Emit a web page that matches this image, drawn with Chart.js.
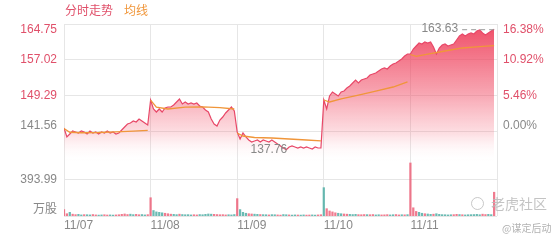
<!DOCTYPE html>
<html>
<head>
<meta charset="utf-8">
<script src="https://cdn.jsdelivr.net/npm/chart.js@4.4.0/dist/chart.umd.min.js"></script>
<style>
  body { margin: 0; background: #fff; }
  #wrap { position: relative; width: 560px; height: 240px; font-family: "Liberation Sans", "Noto Sans CJK SC", sans-serif; }
  #legend { position: absolute; left: 65px; top: 3px; font-size: 12px; line-height: 14px; font-family: "Noto Sans CJK SC", sans-serif; }
  #legend .avg { margin-left: 11px; color: #f0963a; }
  #legend .price { color: #e0506a; }
  #mark { position: absolute; left: 471px; top: 194px; font-size: 14px; line-height: 18px; color: rgba(185,185,185,0.85); font-family: "Noto Sans CJK SC", sans-serif; }
  #mark .logo { display: inline-block; width: 11px; height: 11px; border: 1.5px solid rgba(190,190,190,0.85); border-radius: 50%; margin-right: 7px; vertical-align: -1px; }
  #mark2 { position: absolute; left: 502px; top: 221px; font-size: 10px; line-height: 14px; color: rgba(170,170,170,0.9); font-family: "Noto Sans CJK SC", sans-serif; }
</style>
</head>
<body>
<div id="wrap">
  <canvas id="chart" width="560" height="240"></canvas>
  <div id="legend"><span class="price">分时走势</span><span class="avg">均线</span></div>
  <div id="mark"><span class="logo"></span>老虎社区</div>
  <div id="mark2">@谋定后动</div>
</div>
<script>
const days = ['11/07', '11/08', '11/09', '11/10', '11/11'];
const prevClose = 141.56;
const priceTicks = [164.75, 157.02, 149.29, 141.56];
const pctLabels = ['16.38%', '10.92%', '5.46%', '0.00%'];
const volTick = 393.99;
const volUnit = '万股';

// price every few minutes, one array per day
const price1 = [142.42, 140.49, 141.13, 141.77, 141.56, 141.35, 141.77, 141.56, 141.13, 141.77, 141.35, 141.56, 141.13, 141.56, 141.35, 141.77, 141.35, 141.56, 141.13, 141.35, 141.99, 142.63, 143.28, 143.49, 143.92, 143.71, 144.35, 143.92, 143.49, 143.06];
const price2 = [148.43, 146.50, 145.85, 146.50, 145.85, 146.71, 146.93, 146.93, 147.36, 148.00, 148.65, 147.57, 148.00, 147.57, 147.79, 147.57, 147.79, 147.14, 146.93, 146.28, 145.85, 144.35, 143.28, 142.85, 144.14, 144.78, 145.64, 146.28, 146.93, 146.07];
const price3 = [141.56, 140.06, 141.35, 140.49, 139.84, 139.41, 139.63, 139.84, 139.41, 139.84, 139.63, 139.41, 139.84, 139.41, 138.98, 138.55, 138.12, 137.76, 138.34, 138.55, 138.34, 138.12, 138.34, 138.12, 138.34, 138.12, 137.91, 138.34, 138.12, 138.12];
const price4 = [148.43, 146.50, 149.29, 150.15, 149.72, 149.29, 150.15, 150.36, 151.01, 151.44, 152.08, 152.72, 152.08, 152.72, 152.94, 153.15, 153.80, 154.01, 154.23, 154.66, 155.09, 155.30, 155.09, 155.73, 156.16, 156.37, 156.80, 157.23, 157.88, 158.31];
const price5 = [158.31, 159.38, 160.02, 160.67, 160.45, 160.88, 160.67, 160.88, 159.81, 158.31, 159.59, 160.24, 160.45, 160.02, 160.24, 160.45, 161.31, 162.17, 162.60, 162.17, 162.60, 162.82, 162.60, 163.24, 163.46, 162.82, 162.39, 162.82, 163.24, 163.63];

// average line, read at these steps of each day
const avgSteps = [0, 2, 6, 12, 18, 24, 29];
const avg1 = [142.3, 141.5, 141.4, 141.45, 141.6, 141.75, 141.9];
const avg2 = [148.4, 146.9, 146.5, 146.9, 146.95, 146.8, 146.5];
const avg3 = [141.35, 140.7, 140.38, 140.27, 140.06, 139.84, 139.67];
const avg4 = [148.43, 148.0, 148.65, 149.5, 150.36, 151.22, 152.3];
const avg5 = [158.2, 157.8, 158.3, 158.95, 159.6, 159.9, 160.1];

// volume (万股) and direction u/d
const vol1 = [70, 25, 40, 20, 15, 18, 12, 15, 14, 12, 16, 12, 10, 12, 14, 11, 12, 10, 12, 14, 18, 22, 16, 20, 15, 18, 14, 16, 12, 15];
const vol2 = [200, 60, 45, 40, 35, 30, 25, 20, 18, 15, 20, 16, 14, 15, 12, 14, 12, 16, 14, 18, 22, 20, 18, 16, 14, 15, 12, 14, 12, 16];
const vol3 = [190, 70, 40, 30, 25, 22, 20, 18, 16, 15, 14, 12, 15, 14, 12, 10, 16, 14, 12, 10, 12, 11, 10, 12, 10, 11, 12, 10, 12, 14];
const vol4 = [310, 80, 55, 45, 35, 30, 25, 22, 20, 18, 16, 18, 15, 14, 16, 15, 14, 16, 12, 14, 12, 13, 15, 12, 14, 16, 12, 14, 13, 15];
const vol5 = [580, 90, 50, 40, 30, 25, 22, 18, 20, 25, 18, 15, 14, 12, 14, 15, 18, 16, 14, 12, 14, 15, 16, 18, 14, 20, 16, 18, 15, 260];
const dir1 = 'uuduuddudd' + 'uudduudduu' + 'uuudduuddu';
const dir2 = 'udddduuudd' + 'udddduuddd' + 'dduuuuuddd';
const dir3 = 'uddduuddud' + 'dudduuddud' + 'dudduudduu';
const dir4 = 'duuuudduud' + 'dduuuduudd' + 'uuudduudud';
const dir5 = 'uuudduddud' + 'ddddduudud' + 'ddddduuddu';

const perDay = 30;
const priceMin = 123.52;
const volMax = 2100;
const red = '#e0506a';
const grey = '#888';
const font = { family: '"Liberation Sans", "Noto Sans CJK SC", sans-serif', size: 12, lineHeight: 1 };

const priceData = [price1, price2, price3, price4, price5]
  .flatMap((day, d) => day.map((p, i) => ({ x: d * perDay + i, y: p })));
// each day's average starts fresh, so break the line between days
const avgData = [avg1, avg2, avg3, avg4, avg5]
  .flatMap((day, d) => day.map((p, k) => ({ x: d * perDay + avgSteps[k], y: p }))
    .concat([{ x: d * perDay + 29.5, y: null }]));
const volData = [vol1, vol2, vol3, vol4, vol5]
  .flatMap((day, d) => day.map((v, i) => ({ x: d * perDay + i, y: v })));
const volColors = [dir1, dir2, dir3, dir4, dir5].join('').split('')
  .map(c => c === 'u' ? 'rgba(236,90,115,0.8)' : 'rgba(70,170,160,0.8)');

// left axis: price ticks + volume tick drawn on the same scale
const volTickPrice = priceMin + volTick / volMax * (priceTicks[0] - priceMin);
const leftTicks = [
  { value: priceMin, label: [volUnit, ''], color: grey },
  { value: volTickPrice, label: volTick.toFixed(2), color: grey },
];
const rightTicks = [];
priceTicks.slice().reverse().forEach((p, i, arr) => {
  const s = p.toFixed(2);
  const pct = pctLabels[arr.length - 1 - i];
  const pos = i === 0 ? 'low' : i === arr.length - 1 ? 'top' : 'mid';
  const wrap = t => pos === 'low' ? [t, ''] : pos === 'top' ? ['', t] : t;
  const color = p > prevClose ? red : grey;
  leftTicks.push({ value: p, label: wrap(s), color });
  rightTicks.push({ value: p, label: wrap(pct), color });
});

const extremeLabels = {
  id: 'extremeLabels',
  afterDatasetsDraw(chart) {
    let hi = priceData[0], lo = priceData[0];
    priceData.forEach(p => {
      if (p.y > hi.y) hi = p;
      if (p.y < lo.y) lo = p;
    });
    const { x, y } = chart.scales;
    const c = chart.ctx;
    c.save();
    c.font = '12px "Liberation Sans", sans-serif';
    c.fillStyle = grey;
    c.textBaseline = 'middle';
    c.textAlign = 'right';
    const hx = x.getPixelForValue(hi.x), hy = y.getPixelForValue(hi.y);
    c.fillText(hi.y.toFixed(2), hx - 36, hy - 1);
    c.strokeStyle = '#999';
    c.lineWidth = 1;
    c.setLineDash([5, 4]);
    c.beginPath();
    c.moveTo(hx - 32, hy + 0.5);
    c.lineTo(hx + 3, hy + 0.5);
    c.stroke();
    c.setLineDash([]);
    const lx = x.getPixelForValue(lo.x), ly = y.getPixelForValue(lo.y);
    c.fillText(lo.y.toFixed(2), lx + 1, ly);
    c.restore();
  }
};

function fillGradient(ctx) {
  const area = ctx.chart.chartArea;
  if (!area) return null;
  const g = ctx.chart.ctx.createLinearGradient(0, area.top, 0, 162);
  g.addColorStop(0, 'rgba(238,60,88,0.92)');
  g.addColorStop(0.5, 'rgba(240,75,100,0.5)');
  g.addColorStop(0.8, 'rgba(245,100,120,0.2)');
  g.addColorStop(1, 'rgba(255,255,255,0)');
  return g;
}

new Chart(document.getElementById('chart'), {
  data: {
    datasets: [
      {
        type: 'line',
        label: '均线',
        data: avgData,
        borderColor: '#f0963a',
        borderWidth: 1.3,
        pointRadius: 0,
        tension: 0,
        spanGaps: false,
        yAxisID: 'y',
        order: 0,
      },
      {
        type: 'line',
        label: '分时走势',
        data: priceData,
        borderColor: '#e84868',
        borderWidth: 1.2,
        pointRadius: 0,
        tension: 0,
        fill: 'start',
        backgroundColor: fillGradient,
        yAxisID: 'y',
        order: 1,
      },
      {
        type: 'bar',
        label: volUnit,
        data: volData,
        backgroundColor: volColors,
        barThickness: 1.6,
        yAxisID: 'yv',
        order: 2,
      },
    ],
  },
  options: {
    responsive: false,
    animation: false,
    layout: { padding: { top: 24 } },
    plugins: {
      legend: { display: false },
      tooltip: { enabled: false },
    },
    scales: {
      x: {
        type: 'linear',
        offset: false,
        min: 0,
        max: perDay * days.length,
        afterBuildTicks: s => { s.ticks = [0, 1, 2, 3, 4, 5].map(d => ({ value: d * perDay })); },
        afterFit: s => { s.height = 24; },
        ticks: {
          callback: v => days[v / perDay] || '',
          align: 'start',
          maxRotation: 0,
          autoSkip: false,
          color: grey,
          font: font,
          padding: 4,
        },
        grid: { color: '#e6e6e6', drawTicks: false, offset: false },
        border: { display: false },
      },
      y: {
        position: 'left',
        min: priceMin,
        max: priceTicks[0],
        afterBuildTicks: s => { s.ticks = leftTicks.map(t => ({ value: t.value })); },
        afterFit: s => { s.width = 64; },
        ticks: {
          callback: (v, i) => leftTicks[i].label,
          color: ctx => leftTicks[ctx.index] ? leftTicks[ctx.index].color : grey,
          font: font,
          padding: 7,
        },
        grid: { color: '#e6e6e6', drawTicks: false },
        border: { display: false },
      },
      yr: {
        position: 'right',
        min: priceMin,
        max: priceTicks[0],
        afterBuildTicks: s => { s.ticks = rightTicks.map(t => ({ value: t.value })); },
        afterFit: s => { s.width = 63; },
        ticks: {
          callback: (v, i) => rightTicks[i].label,
          color: ctx => rightTicks[ctx.index] ? rightTicks[ctx.index].color : grey,
          font: font,
          padding: 6,
        },
        grid: { display: false, drawTicks: false },
        border: { display: false },
      },
      yv: {
        display: false,
        min: 0,
        max: volMax,
      },
    },
  },
  plugins: [extremeLabels],
});
</script>
</body>
</html>
